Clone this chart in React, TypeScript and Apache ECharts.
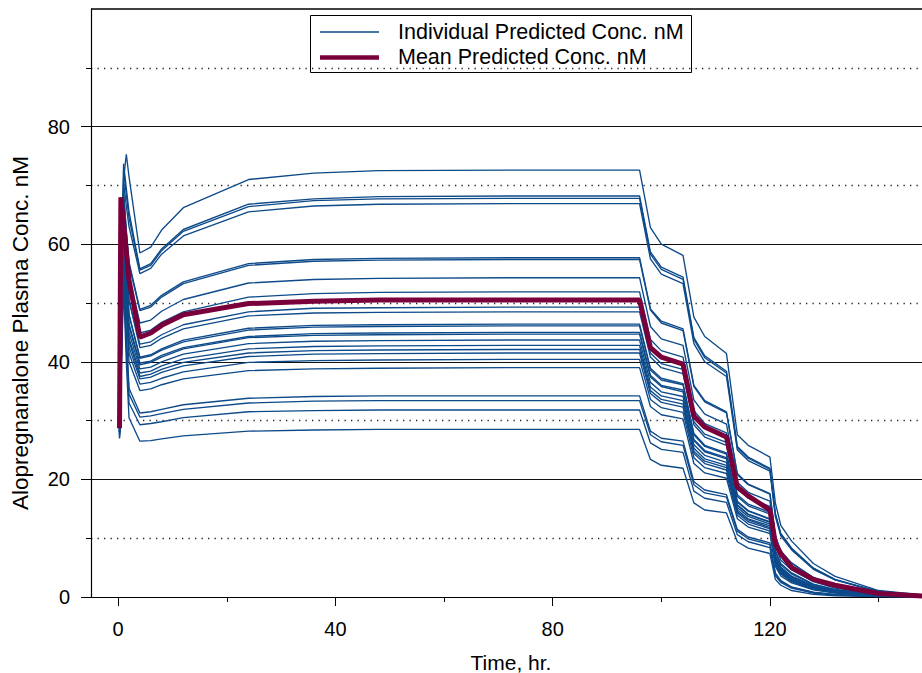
import React, { useEffect, useRef } from "react";
import * as echarts from "echarts";

const FONT = "'Liberation Sans', Arial, Helvetica, sans-serif";
const BLUE = "#0d4a8a";
const MAROON = "#7a003c";

// Time grid (hr) for the individual predicted curves
const timeIndiv = [0.25, 1, 1.5, 2, 4, 6, 8, 12, 24, 36, 48, 72, 96, 98, 100, 104, 106, 108, 112, 114, 116, 120, 121, 122, 124, 128, 132, 140, 148];

// Individual predicted concentrations (nM)
const subj01 = [33, 71.0, 75.3, 71.5, 58.5, 59.5, 62.4, 66.2, 71.0, 72.1, 72.5, 72.6, 72.6, 62.8, 60.0, 58.1, 47.6, 44.3, 41.4, 27.6, 25.8, 23.8, 16.0, 12.2, 9.5, 5.7, 3.5, 1.1, 0.34];
const subj02 = [32, 73.7, 69.5, 65.5, 55.8, 56.7, 59.2, 62.5, 66.8, 67.7, 68.1, 68.2, 68.2, 58.7, 56.1, 54.4, 44.1, 41.0, 38.4, 25.6, 23.8, 21.9, 14.2, 10.8, 8.3, 4.9, 3.0, 0.93, 0.29];
const subj03 = [31, 72.6, 68.5, 64.5, 55.6, 56.4, 58.9, 62.2, 66.4, 67.4, 67.7, 67.8, 67.8, 58.3, 55.7, 54.0, 43.8, 40.7, 38.1, 25.4, 23.6, 21.7, 14.1, 10.7, 8.2, 4.9, 2.9, 0.92, 0.29];
const subj04 = [30, 70.5, 66.5, 63.0, 55.0, 55.9, 58.3, 61.4, 65.5, 66.5, 66.8, 66.9, 66.9, 57.5, 54.9, 53.3, 43.1, 40.0, 37.5, 25.0, 23.2, 21.4, 13.7, 10.4, 8.0, 4.7, 2.9, 0.89, 0.27];
const subj05 = [30, 69.0, 62.5, 57.0, 48.9, 49.6, 51.3, 53.6, 56.7, 57.4, 57.6, 57.7, 57.7, 49.0, 46.9, 45.6, 36.0, 33.4, 31.5, 21.0, 19.2, 17.6, 10.4, 7.8, 5.8, 3.3, 2.0, 0.61, 0.19];
const subj06 = [29, 68.5, 62.0, 56.5, 48.7, 49.3, 51.0, 53.3, 56.4, 57.1, 57.3, 57.4, 57.4, 48.8, 46.6, 45.3, 35.8, 33.2, 31.3, 20.8, 19.1, 17.5, 10.3, 7.7, 5.7, 3.3, 1.9, 0.60, 0.18];
const subj07 = [29, 67.5, 60.5, 54.5, 46.6, 47.1, 48.6, 50.6, 53.4, 54.0, 54.2, 54.3, 54.3, 46.0, 43.9, 42.8, 33.5, 31.1, 29.4, 19.5, 17.8, 16.3, 9.4, 6.9, 5.0, 2.9, 1.7, 0.52, 0.16];
const subj08 = [28, 66.0, 58.5, 52.5, 44.9, 45.4, 46.7, 48.5, 51.0, 51.6, 51.8, 51.9, 51.9, 43.8, 41.9, 40.8, 31.7, 29.5, 27.9, 18.5, 16.8, 15.4, 8.6, 6.3, 4.6, 2.6, 1.5, 0.46, 0.14];
const subj09 = [29, 65.5, 57.5, 50.5, 43.0, 43.4, 44.6, 46.3, 48.5, 49.1, 49.2, 49.3, 49.3, 41.5, 39.7, 38.7, 29.8, 27.7, 26.3, 17.4, 15.8, 14.4, 7.9, 5.7, 4.1, 2.2, 1.3, 0.40, 0.12];
const subj10 = [28, 66.5, 58.0, 50.5, 42.4, 42.8, 44.0, 45.6, 47.8, 48.3, 48.4, 48.5, 48.5, 40.8, 39.0, 38.0, 29.3, 27.2, 25.8, 17.1, 15.5, 14.1, 7.6, 5.5, 3.9, 2.1, 1.2, 0.38, 0.12];
const subj11 = [28, 64.0, 55.5, 48.0, 40.8, 41.2, 42.2, 43.7, 45.7, 46.2, 46.3, 46.4, 46.4, 38.9, 37.2, 36.3, 27.8, 25.8, 24.5, 16.3, 14.7, 13.3, 7.0, 5.1, 3.5, 1.9, 1.1, 0.34, 0.10];
const subj12 = [30, 65.0, 56.0, 48.0, 40.6, 41.0, 42.0, 43.4, 45.4, 45.9, 46.0, 46.1, 46.1, 38.6, 36.9, 36.1, 27.6, 25.6, 24.3, 16.1, 14.6, 13.2, 7.0, 5.0, 3.5, 1.9, 1.1, 0.33, 0.10];
const subj13 = [28, 63.5, 54.5, 46.5, 39.8, 40.1, 41.1, 42.4, 44.3, 44.8, 44.9, 45.0, 45.0, 37.7, 36.0, 35.2, 26.8, 24.9, 23.7, 15.7, 14.1, 12.8, 6.7, 4.8, 3.3, 1.8, 1.0, 0.31, 0.09];
const subj14 = [29, 62.5, 53.5, 46.0, 39.5, 39.9, 40.8, 42.2, 44.1, 44.5, 44.6, 44.7, 44.7, 37.4, 35.8, 34.9, 26.6, 24.7, 23.5, 15.6, 14.0, 12.7, 6.6, 4.7, 3.3, 1.7, 0.98, 0.30, 0.09];
const subj15 = [28, 63.0, 53.5, 45.0, 38.8, 39.1, 40.0, 41.3, 43.1, 43.5, 43.6, 43.7, 43.7, 36.5, 34.9, 34.1, 25.9, 24.1, 22.9, 15.2, 13.7, 12.4, 6.3, 4.5, 3.1, 1.6, 0.92, 0.28, 0.08];
const subj16 = [27.5, 61.5, 52.0, 44.0, 38.1, 38.4, 39.3, 40.5, 42.2, 42.6, 42.7, 42.8, 42.8, 35.7, 34.2, 33.4, 25.3, 23.5, 22.4, 14.8, 13.3, 12.1, 6.1, 4.4, 2.9, 1.6, 0.87, 0.27, 0.08];
const subj17 = [28, 62.0, 52.0, 43.5, 37.5, 37.9, 38.7, 39.9, 41.5, 41.9, 42.0, 42.1, 42.1, 35.1, 33.6, 32.8, 24.8, 23.1, 22.0, 14.5, 13.1, 11.8, 5.9, 4.2, 2.8, 1.5, 0.83, 0.25, 0.07];
const subj18 = [28.5, 60.5, 50.5, 42.5, 37.1, 37.4, 38.2, 39.3, 40.9, 41.3, 41.4, 41.5, 41.5, 34.6, 33.1, 32.3, 24.4, 22.7, 21.6, 14.3, 12.8, 11.6, 5.8, 4.1, 2.7, 1.4, 0.79, 0.24, 0.07];
const subj19 = [27.5, 60.0, 49.5, 41.5, 36.2, 36.5, 37.2, 38.3, 39.9, 40.2, 40.3, 40.4, 40.4, 33.6, 32.2, 31.4, 23.7, 22.0, 21.0, 13.9, 12.4, 11.2, 5.5, 3.9, 2.6, 1.3, 0.73, 0.22, 0.06];
const subj20 = [28, 59.0, 48.5, 40.0, 35.1, 35.4, 36.1, 37.1, 38.5, 38.8, 38.9, 39.0, 39.0, 32.4, 31.0, 30.3, 22.7, 21.1, 20.2, 13.3, 11.9, 10.8, 5.2, 3.6, 2.4, 1.2, 0.66, 0.20, 0.05];
const subj21 = [27, 57.5, 45.0, 35.5, 31.3, 31.5, 31.9, 32.7, 33.8, 34.1, 34.2, 34.2, 34.2, 28.2, 27.0, 26.5, 19.6, 18.2, 17.4, 11.5, 10.2, 9.2, 4.1, 2.8, 1.7, 0.82, 0.42, 0.13, 0.03];
const subj22 = [28, 56.0, 44.0, 34.5, 30.6, 30.8, 31.2, 31.9, 33.0, 33.3, 33.4, 33.4, 33.4, 27.6, 26.4, 25.8, 19.1, 17.7, 17.0, 11.2, 9.9, 8.9, 3.9, 2.7, 1.6, 0.76, 0.39, 0.11, 0.03];
const subj23 = [27.5, 55.0, 42.5, 33.0, 29.3, 29.5, 29.8, 30.5, 31.5, 31.7, 31.8, 31.8, 31.8, 26.2, 25.1, 24.6, 18.0, 16.8, 16.1, 10.6, 9.4, 8.4, 3.6, 2.5, 1.5, 0.66, 0.32, 0.10, 0.02];
const subj24 = [27, 53.0, 40.0, 30.5, 26.5, 26.6, 26.9, 27.4, 28.2, 28.4, 28.5, 28.5, 28.5, 23.4, 22.4, 21.9, 16.0, 14.8, 14.3, 9.4, 8.3, 7.4, 3.0, 2.0, 1.1, 0.46, 0.20, 0.06, 0.01];

const individuals = [subj01, subj02, subj03, subj04, subj05, subj06, subj07, subj08, subj09, subj10, subj11, subj12,
  subj13, subj14, subj15, subj16, subj17, subj18, subj19, subj20, subj21, subj22, subj23, subj24];

// Mean predicted curve
const timeMean = [0.25, 0.5, 1, 2, 4, 6, 8, 12, 24, 36, 48, 72, 96, 98, 100, 104, 106, 108, 112, 114, 116, 120, 121, 122, 124, 128, 132, 140, 148];
const meanConc = [28.7, 68.0, 63.5, 53.9, 44.2, 44.9, 46.2, 48.0, 49.9, 50.3, 50.5, 50.5, 50.5, 42.4, 40.8, 39.6, 30.8, 28.9, 27.2, 18.7, 17.2, 14.8, 9.1, 7.4, 5.0, 3.0, 2.0, 0.6, 0.15];

// Axis ticks / labels
const xMajorTicks = [0, 40, 80, 120];
const xMinorTicks = [20, 60, 100, 140];
const yLabelValues = [0, 20, 40, 60, 80];

const INDIV_NAME = "Individual Predicted Conc. nM";
const MEAN_NAME = "Mean Predicted Conc. nM";

export default function App() {
  const ref = useRef<HTMLDivElement>(null);

  useEffect(() => {
    if (!ref.current) return;
    const chart = echarts.init(ref.current, null, { renderer: "svg" });

    const indivSeries = individuals.map((vals, k) => ({
      name: INDIV_NAME,
      id: "subj" + (k + 1),
      type: "line",
      xAxisIndex: 0,
      yAxisIndex: 0,
      data: timeIndiv.map((t, i) => [t, vals[i]]),
      showSymbol: false,
      symbol: "none",
      silent: true,
      z: 2,
      lineStyle: { color: BLUE, width: 1.35 },
    }));

    const option: any = {
      animation: false,
      backgroundColor: "#fff",
      grid: { left: 91, top: 9, right: 0, bottom: 76, containLabel: false },
      xAxis: [
        {
          type: "value",
          min: -5,
          max: 148,
          position: "bottom",
          axisLine: { show: true, onZero: false, lineStyle: { color: "#000", width: 1.2 } },
          axisTick: { show: true, customValues: xMajorTicks, length: 9, lineStyle: { color: "#000", width: 1 } },
          axisLabel: { show: true, customValues: xMajorTicks, margin: 22, fontSize: 20, color: "#000", fontFamily: FONT },
          splitLine: { show: false },
        },
        {
          type: "value",
          min: -5,
          max: 148,
          position: "bottom",
          offset: 0,
          axisLine: { show: false, onZero: false },
          axisTick: { show: true, customValues: xMinorTicks, length: 5, lineStyle: { color: "#000", width: 1 } },
          axisLabel: { show: false },
          splitLine: { show: false },
        },
      ],
      yAxis: [
        {
          type: "value",
          min: 0,
          max: 100,
          interval: 20,
          axisLine: { show: true, onZero: false, lineStyle: { color: "#000", width: 1.2 } },
          axisTick: { show: true, customValues: yLabelValues, length: 10, lineStyle: { color: "#000", width: 1 } },
          minorTick: { show: true, splitNumber: 2, length: 5, lineStyle: { color: "#000", width: 1 } },
          axisLabel: { show: true, customValues: yLabelValues, margin: 21, fontSize: 20, color: "#000", fontFamily: FONT },
          splitLine: { show: true, lineStyle: { color: "#111", width: 1 } },
          minorSplitLine: { show: true, lineStyle: { color: "#222", width: 1.4, type: [1.3, 5.2] } },
        },
      ],
      series: [
        ...indivSeries,
        {
          name: MEAN_NAME,
          type: "line",
          xAxisIndex: 0,
          yAxisIndex: 0,
          data: timeMean.map((t, i) => [t, meanConc[i]]),
          showSymbol: false,
          symbol: "none",
          silent: true,
          z: 3,
          lineStyle: { color: MAROON, width: 5 },
        },
      ],
      graphic: [
        { type: "line", z: 10, shape: { x1: 91, y1: 9, x2: 922, y2: 9 }, style: { stroke: "#000", lineWidth: 1.5 } },
        {
          type: "group",
          z: 20,
          children: [
            { type: "rect", shape: { x: 310.5, y: 15.5, width: 381, height: 57 }, style: { fill: "#fff", stroke: "#000", lineWidth: 1 } },
            { type: "line", shape: { x1: 320, y1: 32, x2: 379, y2: 32 }, style: { stroke: BLUE, lineWidth: 1.3 } },
            { type: "line", shape: { x1: 320, y1: 57.5, x2: 379, y2: 57.5 }, style: { stroke: MAROON, lineWidth: 4.5 } },
            { type: "text", x: 398, y: 32, style: { text: INDIV_NAME, fontSize: 21.5, fontFamily: FONT, fill: "#000", align: "left", verticalAlign: "middle" } },
            { type: "text", x: 398, y: 57, style: { text: MEAN_NAME, fontSize: 21.5, fontFamily: FONT, fill: "#000", align: "left", verticalAlign: "middle" } },
          ],
        },
        { type: "text", x: 511, y: 662, z: 20, style: { text: "Time, hr.", fontSize: 21, fontFamily: FONT, fill: "#000", align: "center", verticalAlign: "middle" } },
        { type: "text", x: 20, y: 333, z: 20, rotation: Math.PI / 2, style: { text: "Alopregnanalone Plasma Conc. nM", fontSize: 22.5, fontFamily: FONT, fill: "#000", align: "center", verticalAlign: "middle" } },
      ],
    };

    chart.setOption(option);
    return () => chart.dispose();
  }, []);

  return <div ref={ref} style={{ position: "absolute", left: 0, top: 0, width: 922, height: 673, background: "#fff" }} />;
}
